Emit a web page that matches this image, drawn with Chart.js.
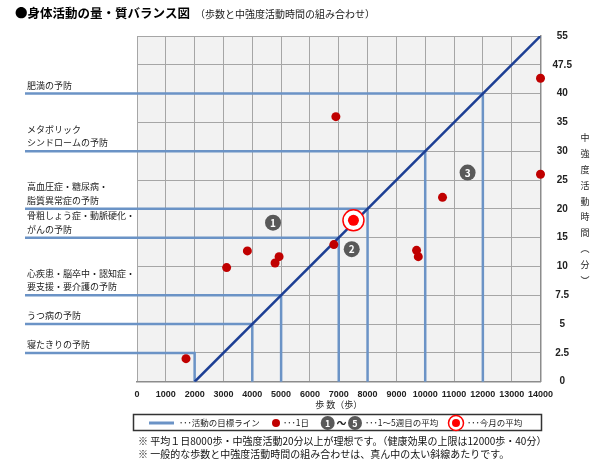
<!DOCTYPE html>
<html lang="ja">
<head>
<meta charset="utf-8">
<title>身体活動の量・質バランス図</title>
<script src="https://cdn.jsdelivr.net/npm/chart.js@4.4.1/dist/chart.umd.min.js"></script>
<style>
  html, body { margin: 0; padding: 0; background: #fff; }
  #wrap { width: 600px; height: 459px; }
</style>
</head>
<body>
<div id="wrap"><canvas id="balanceChart" width="600" height="459"></canvas></div>
<script>
// right axis labels (minutes) - one label per grid row, the rows are not evenly spaced in minutes
const minuteTicks = [0, 2.5, 5, 7.5, 10, 15, 20, 25, 30, 35, 40, 47.5, 55];
const stepTicks = [0, 1000, 2000, 3000, 4000, 5000, 6000, 7000, 8000, 9000, 10000, 11000, 12000, 13000, 14000];

// target lines (名前 / 歩数 / 中強度活動時間)
const goalNames = [
    ['肥満の予防'],
    ['メタボリック', 'シンドロームの予防'],
    ['高血圧症・糖尿病・', '脂質異常症の予防'],
    ['骨粗しょう症・動脈硬化・', 'がんの予防'],
    ['心疾患・脳卒中・認知症・', '要支援・要介護の予防'],
    ['うつ病の予防'],
    ['寝たきりの予防']
];
const goalSteps = [12000, 10000, 8000, 7000, 5000, 4000, 2000];
const goalMinutes = [40, 30, 20, 15, 7.5, 5, 2.5];

// the thick diagonal (typical combination)
const diagSteps = [2000, 14000];
const diagMinutes = [0, 55];

// daily records
const daySteps = [1700, 3110, 3830, 4790, 4930, 6830, 6900, 9700, 9760, 10600, 14000, 14000];
const dayMinutes = [2.0, 9.9, 12.7, 10.6, 11.7, 13.8, 36, 12.8, 11.7, 22, 44, 26];

// weekly averages
const weekNumbers = ['1', '2', '3'];
const weekSteps = [4720, 7450, 11470];
const weekMinutes = [17.6, 13.0, 26.3];

// this month's average
const monthSteps = [7510];
const monthMinutes = [18];

// colors
const GOAL_COLOR = '#6b93c6';
const DIAG_COLOR = '#1d3f94';
const DAY_COLOR = '#c00000';
const WEEK_COLOR = '#595959';
const MONTH_COLOR = '#ff0000';
const JP = '"Noto Sans CJK JP", "Noto Sans", sans-serif';

/**
 * Convert minutes to grid row (the right axis is piecewise linear).
 */
function toRow(min) {
    for (let i = 1; i < minuteTicks.length; i++) {
        if (min <= minuteTicks[i]) {
            const lo = minuteTicks[i - 1];
            const hi = minuteTicks[i];
            return i - 1 + (min - lo) / (hi - lo);
        }
    }
    return minuteTicks.length - 1;
}

function toPoints(xs, ys) {
    return xs.map((x, i) => ({ x: x, y: toRow(ys[i]) }));
}

// Build datasets, first in list = drawn at the bottom
const datasets = [];

goalSteps.forEach((s, i) => {
    const row = toRow(goalMinutes[i]);
    datasets.push({
        label: goalNames[i].join(''),
        data: [{ x: 0, y: row }, { x: s, y: row }, { x: s, y: 0 }],
        showLine: true,
        borderColor: GOAL_COLOR,
        borderWidth: 2.5,
        pointRadius: 0,
        clip: false
    });
});

datasets.push({
    label: 'diagonal',
    data: toPoints(diagSteps, diagMinutes),
    showLine: true,
    borderColor: DIAG_COLOR,
    borderWidth: 2.5,
    pointRadius: 0
});

datasets.push({
    label: '1日',
    data: toPoints(daySteps, dayMinutes),
    pointRadius: 4.5,
    backgroundColor: DAY_COLOR,
    borderWidth: 0,
    clip: false
});

datasets.push({
    label: 'week',
    data: toPoints(weekSteps, weekMinutes),
    pointRadius: 8,
    backgroundColor: WEEK_COLOR,
    borderWidth: 0,
    clip: false
});

datasets.push({
    label: 'month ring',
    data: toPoints(monthSteps, monthMinutes),
    pointRadius: 10.5,
    backgroundColor: '#ffffff',
    borderColor: MONTH_COLOR,
    borderWidth: 1.5,
    clip: false
});

datasets.push({
    label: 'month',
    data: toPoints(monthSteps, monthMinutes),
    pointRadius: 5.5,
    backgroundColor: MONTH_COLOR,
    borderWidth: 0,
    clip: false
});

datasets.forEach((d, i) => { d.order = datasets.length - i; });

function drawText(ctx, text, x, y, font, color, align) {
    ctx.font = font;
    ctx.fillStyle = color || '#222';
    ctx.textAlign = align || 'left';
    ctx.textBaseline = 'middle';
    ctx.fillText(text, x, y);
}

function weekBadge(ctx, x, y, r, num) {
    ctx.beginPath();
    ctx.arc(x, y, r, 0, Math.PI * 2);
    ctx.fillStyle = WEEK_COLOR;
    ctx.fill();
    drawText(ctx, num, x, y + 0.5, 'bold ' + Math.round(r * 1.25) + 'px ' + JP, '#fff', 'center');
}

const extrasPlugin = {
    id: 'extras',
    beforeDraw(chart) {
        const { ctx, chartArea } = chart;
        ctx.save();
        ctx.fillStyle = '#f2f2f2';
        ctx.fillRect(chartArea.left, chartArea.top, chartArea.right - chartArea.left, chartArea.bottom - chartArea.top);
        ctx.restore();
    },
    afterDraw(chart) {
        const { ctx, chartArea } = chart;
        const yScale = chart.scales.y;
        ctx.save();

        // numbers on the weekly circles
        const weekMeta = chart.getDatasetMeta(datasets.findIndex(d => d.label === 'week'));
        weekMeta.data.forEach((pt, i) => {
            drawText(ctx, weekNumbers[i], pt.x, pt.y + 0.5, 'bold 10px ' + JP, '#fff', 'center');
        });

        // goal lines into the label column + their names
        goalMinutes.forEach((m, i) => {
            const y = yScale.getPixelForValue(toRow(m));
            ctx.beginPath();
            ctx.moveTo(25, y);
            ctx.lineTo(chartArea.left, y);
            ctx.strokeStyle = GOAL_COLOR;
            ctx.lineWidth = 2.5;
            ctx.stroke();
            const lines = goalNames[i];
            lines.forEach((t, j) => {
                const ly = y - 8.5 - (lines.length - 1 - j) * 13.5;
                drawText(ctx, t, 27, ly, '9px ' + JP, '#222');
            });
        });

        // title
        drawText(ctx, '●身体活動の量・質バランス図', 15, 13, 'bold 12.5px ' + JP, '#000');
        drawText(ctx, '（歩数と中強度活動時間の組み合わせ）', 195, 14, '10px ' + JP, '#222');

        // axis titles
        drawText(ctx, '歩 数（歩）', (chartArea.left + chartArea.right) / 2, 405, '9px ' + JP, '#222', 'center');
        const vt = ['中', '強', '度', '活', '動', '時', '間', '︵', '分', '︶'];
        vt.forEach((c, i) => {
            drawText(ctx, c, 585, 138 + i * 15.8, '9px ' + JP, '#222', 'center');
        });

        // legend box
        const lf = '8.5px ' + JP;
        ctx.strokeStyle = '#333';
        ctx.lineWidth = 1.5;
        ctx.strokeRect(133.5, 414.5, 408, 16);
        const ly = 423;
        ctx.beginPath();
        ctx.moveTo(149, ly);
        ctx.lineTo(174, ly);
        ctx.strokeStyle = GOAL_COLOR;
        ctx.lineWidth = 3;
        ctx.stroke();
        drawText(ctx, '･･･活動の目標ライン', 179, ly, lf, '#222');
        ctx.beginPath();
        ctx.arc(276, ly, 4, 0, Math.PI * 2);
        ctx.fillStyle = DAY_COLOR;
        ctx.fill();
        drawText(ctx, '･･･1日', 283, ly, lf, '#222');
        weekBadge(ctx, 327.7, ly, 7, '1');
        drawText(ctx, '～', 341.5, ly, 'bold 10px ' + JP, '#222', 'center');
        weekBadge(ctx, 355, ly, 7, '5');
        drawText(ctx, '･･･1～5週目の平均', 365, ly, lf, '#222');
        ctx.beginPath();
        ctx.arc(456, ly, 7.5, 0, Math.PI * 2);
        ctx.fillStyle = '#fff';
        ctx.fill();
        ctx.strokeStyle = MONTH_COLOR;
        ctx.lineWidth = 1.5;
        ctx.stroke();
        ctx.beginPath();
        ctx.arc(456, ly, 4, 0, Math.PI * 2);
        ctx.fillStyle = MONTH_COLOR;
        ctx.fill();
        drawText(ctx, '･･･今月の平均', 467, ly, lf, '#222');

        // footnotes
        drawText(ctx, '※ 平均１日8000歩・中強度活動20分以上が理想です。（健康効果の上限は12000歩・40分）', 138, 441, '10px ' + JP, '#111');
        drawText(ctx, '※ 一般的な歩数と中強度活動時間の組み合わせは、真ん中の太い斜線あたりです。', 138, 454, '10px ' + JP, '#111');

        ctx.restore();
    }
};

const ctxBalance = document.getElementById('balanceChart').getContext('2d');
const balanceChart = new Chart(ctxBalance, {
    type: 'scatter',
    data: { datasets: datasets },
    options: {
        responsive: false,
        devicePixelRatio: 1,
        animation: false,
        events: [],
        layout: { padding: { left: 137, top: 36, right: 0, bottom: 47 } },
        plugins: {
            legend: { display: false },
            tooltip: { enabled: false }
        },
        scales: {
            x: {
                type: 'linear',
                min: stepTicks[0],
                max: stepTicks[stepTicks.length - 1],
                afterBuildTicks: scale => { scale.ticks = stepTicks.map(v => ({ value: v })); },
                afterFit: scale => { scale.height = 30.3; },
                ticks: {
                    autoSkip: false,
                    maxRotation: 0,
                    padding: 7,
                    color: '#222',
                    callback: v => String(v),
                    font: { family: '"Liberation Sans", Arial, sans-serif', size: 9, weight: 'bold' }
                },
                grid: { color: '#a6a6a6', lineWidth: 1, drawTicks: false },
                border: { color: '#8c8c8c', width: 1.5 }
            },
            y: {
                type: 'linear',
                position: 'right',
                min: 0,
                max: minuteTicks.length - 1,
                afterBuildTicks: scale => { scale.ticks = minuteTicks.map((m, i) => ({ value: i })); },
                afterFit: scale => { scale.width = 59.5; },
                ticks: {
                    autoSkip: false,
                    padding: 12,
                    crossAlign: 'center',
                    color: '#222',
                    callback: v => minuteTicks[v],
                    font: { family: '"Liberation Sans", Arial, sans-serif', size: 10, weight: 'bold' }
                },
                grid: { color: '#a6a6a6', lineWidth: 1, drawTicks: false },
                border: { color: '#8c8c8c', width: 1.5 }
            }
        }
    },
    plugins: [extrasPlugin]
});
</script>
</body>
</html>
